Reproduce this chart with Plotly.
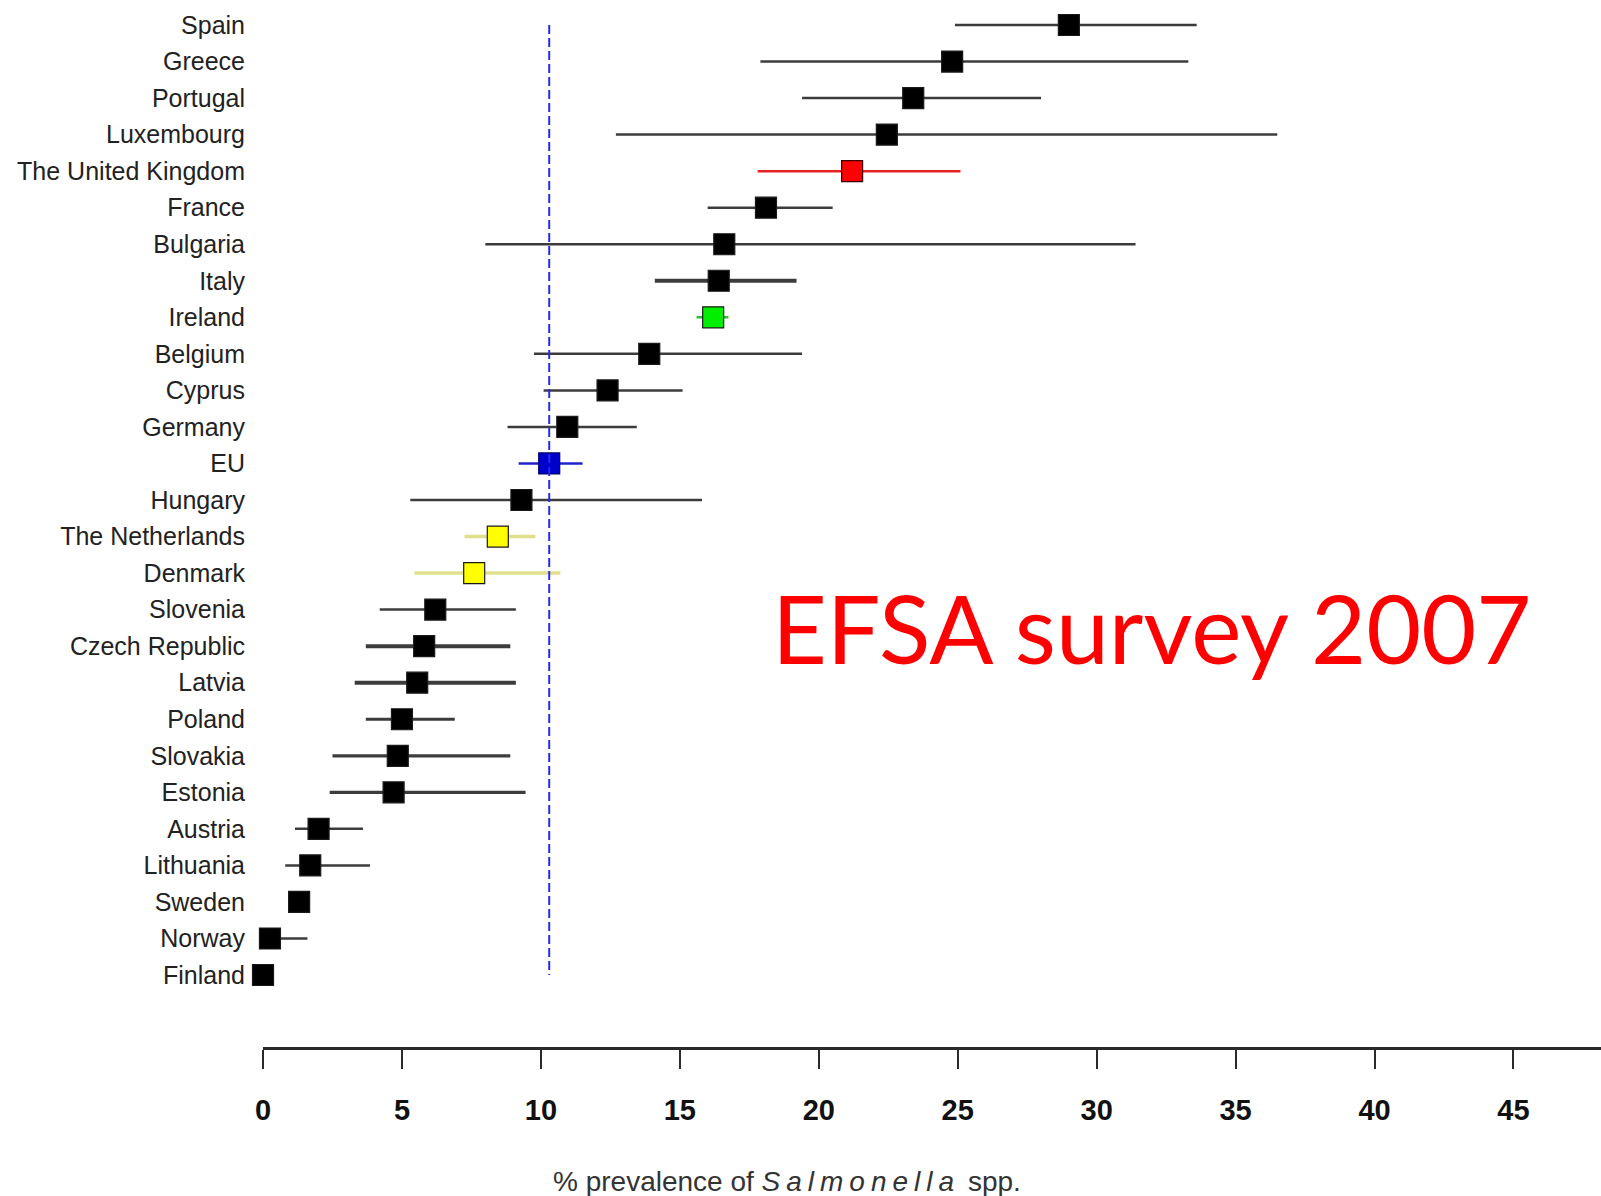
import plotly.graph_objects as go

countries = ["Spain", "Greece", "Portugal", "Luxembourg", "The United Kingdom", "France",
             "Bulgaria", "Italy", "Ireland", "Belgium", "Cyprus", "Germany", "EU", "Hungary",
             "The Netherlands", "Denmark", "Slovenia", "Czech Republic", "Latvia", "Poland",
             "Slovakia", "Estonia", "Austria", "Lithuania", "Sweden", "Norway", "Finland"]
prevalence = [29.0, 24.8, 23.4, 22.45, 21.2, 18.1, 16.6, 16.4, 16.2, 13.9, 12.4, 10.95, 10.3, 9.3,
              8.45, 7.6, 6.2, 5.8, 5.55, 5.0, 4.85, 4.7, 2.0, 1.7, 1.3, 0.25, 0.0]
ci_low = [24.9, 17.9, 19.4, 12.7, 17.8, 16.0, 8.0, 14.1, 15.6, 9.75, 10.1, 8.8, 9.2, 5.3,
          7.25, 5.45, 4.2, 3.7, 3.3, 3.7, 2.5, 2.4, 1.15, 0.8, 1.3, 0.0, 0.0]
ci_high = [33.6, 33.3, 28.0, 36.5, 25.1, 20.5, 31.4, 19.2, 16.75, 19.4, 15.1, 13.45, 11.5, 15.8,
           9.8, 10.7, 9.1, 8.9, 9.1, 6.9, 8.9, 9.45, 3.6, 3.85, 1.3, 1.6, 0.0]
x_ticks = [0, 5, 10, 15, 20, 25, 30, 35, 40, 45]
eu_mean = 10.3
x_title = '% prevalence of <i><span style="letter-spacing:6px">Salmonella</span></i> spp.'
annotation_text = "EFSA survey 2007"

# styles (not data)
default_style = dict(fill="#000000", outline="#1a1a1a", line="#3c3c3c", width=2.5)
special = {
    "The United Kingdom": dict(fill="#ff0000", outline="#3a0000", line="#e32222", width=2.5),
    "Ireland": dict(fill="#00ee00", outline="#1a1a1a", line="#33bb33", width=2.5),
    "EU": dict(fill="#0000cc", outline="#000066", line="#2222cc", width=2.5),
    "The Netherlands": dict(fill="#ffff00", outline="#1a1a1a", line="#e0e08c", width=3.5),
    "Denmark": dict(fill="#ffff00", outline="#1a1a1a", line="#e0e08c", width=3.5),
    "Italy": dict(width=4), "Czech Republic": dict(width=4), "Latvia": dict(width=4),
    "Poland": dict(width=3.2), "Slovakia": dict(width=3.2), "Estonia": dict(width=3.2),
}

fig = go.Figure()
for c, p, lo, hi in zip(countries, prevalence, ci_low, ci_high):
    st = dict(default_style)
    st.update(special.get(c, {}))
    fig.add_trace(go.Scatter(
        x=[p], y=[c], mode="markers",
        marker=dict(symbol="square", size=21, color=st["fill"],
                    line=dict(color=st["outline"], width=1.2)),
        error_x=dict(type="data", symmetric=False, array=[hi - p], arrayminus=[p - lo],
                     color=st["line"], thickness=st["width"], width=0),
        cliponaxis=False, showlegend=False, hoverinfo="skip",
    ))

fig.add_shape(type="line", xref="x", yref="y", x0=eu_mean, x1=eu_mean,
              y0=countries[0], y1=countries[-1], layer="above",
              line=dict(color="#2a2ae6", width=2, dash="9px,4px"))

fig.add_annotation(text=x_title, xref="paper", yref="paper", x=0.3916, y=-0.128,
                   xanchor="center", yanchor="middle", showarrow=False,
                   font=dict(family="Liberation Sans, Arial, sans-serif", size=28, color="#333333"))
fig.add_annotation(text=annotation_text, xref="paper", yref="paper", x=0.664, y=0.401,
                   xanchor="center", yanchor="middle", showarrow=False,
                   font=dict(family="Lato, sans-serif", size=95, color="#ff0000"))

fig.update_layout(
    width=1601, height=1196,
    margin=dict(l=263, r=0, t=0, b=149),
    paper_bgcolor="white", plot_bgcolor="white",
    xaxis=dict(range=[0, 48.15], tickvals=x_ticks, showgrid=False, zeroline=False,
               showline=True, linewidth=3, linecolor="#2a2a2a",
               ticks="outside", ticklen=19, tickwidth=1.5, tickcolor="#2a2a2a",
               ticklabelstandoff=16,
               tickfont=dict(family="Liberation Sans, Arial, sans-serif", size=29,
                             color="#111111", weight="bold")),
    yaxis=dict(type="category", categoryorder="array", categoryarray=countries,
               range=[27.97, -0.684], showgrid=False, zeroline=False, showline=False,
               ticks="", ticklabelstandoff=17,
               tickfont=dict(family="Liberation Sans, Arial, sans-serif", size=25,
                             color="#222222")),
)

fig.write_html("out.html")
